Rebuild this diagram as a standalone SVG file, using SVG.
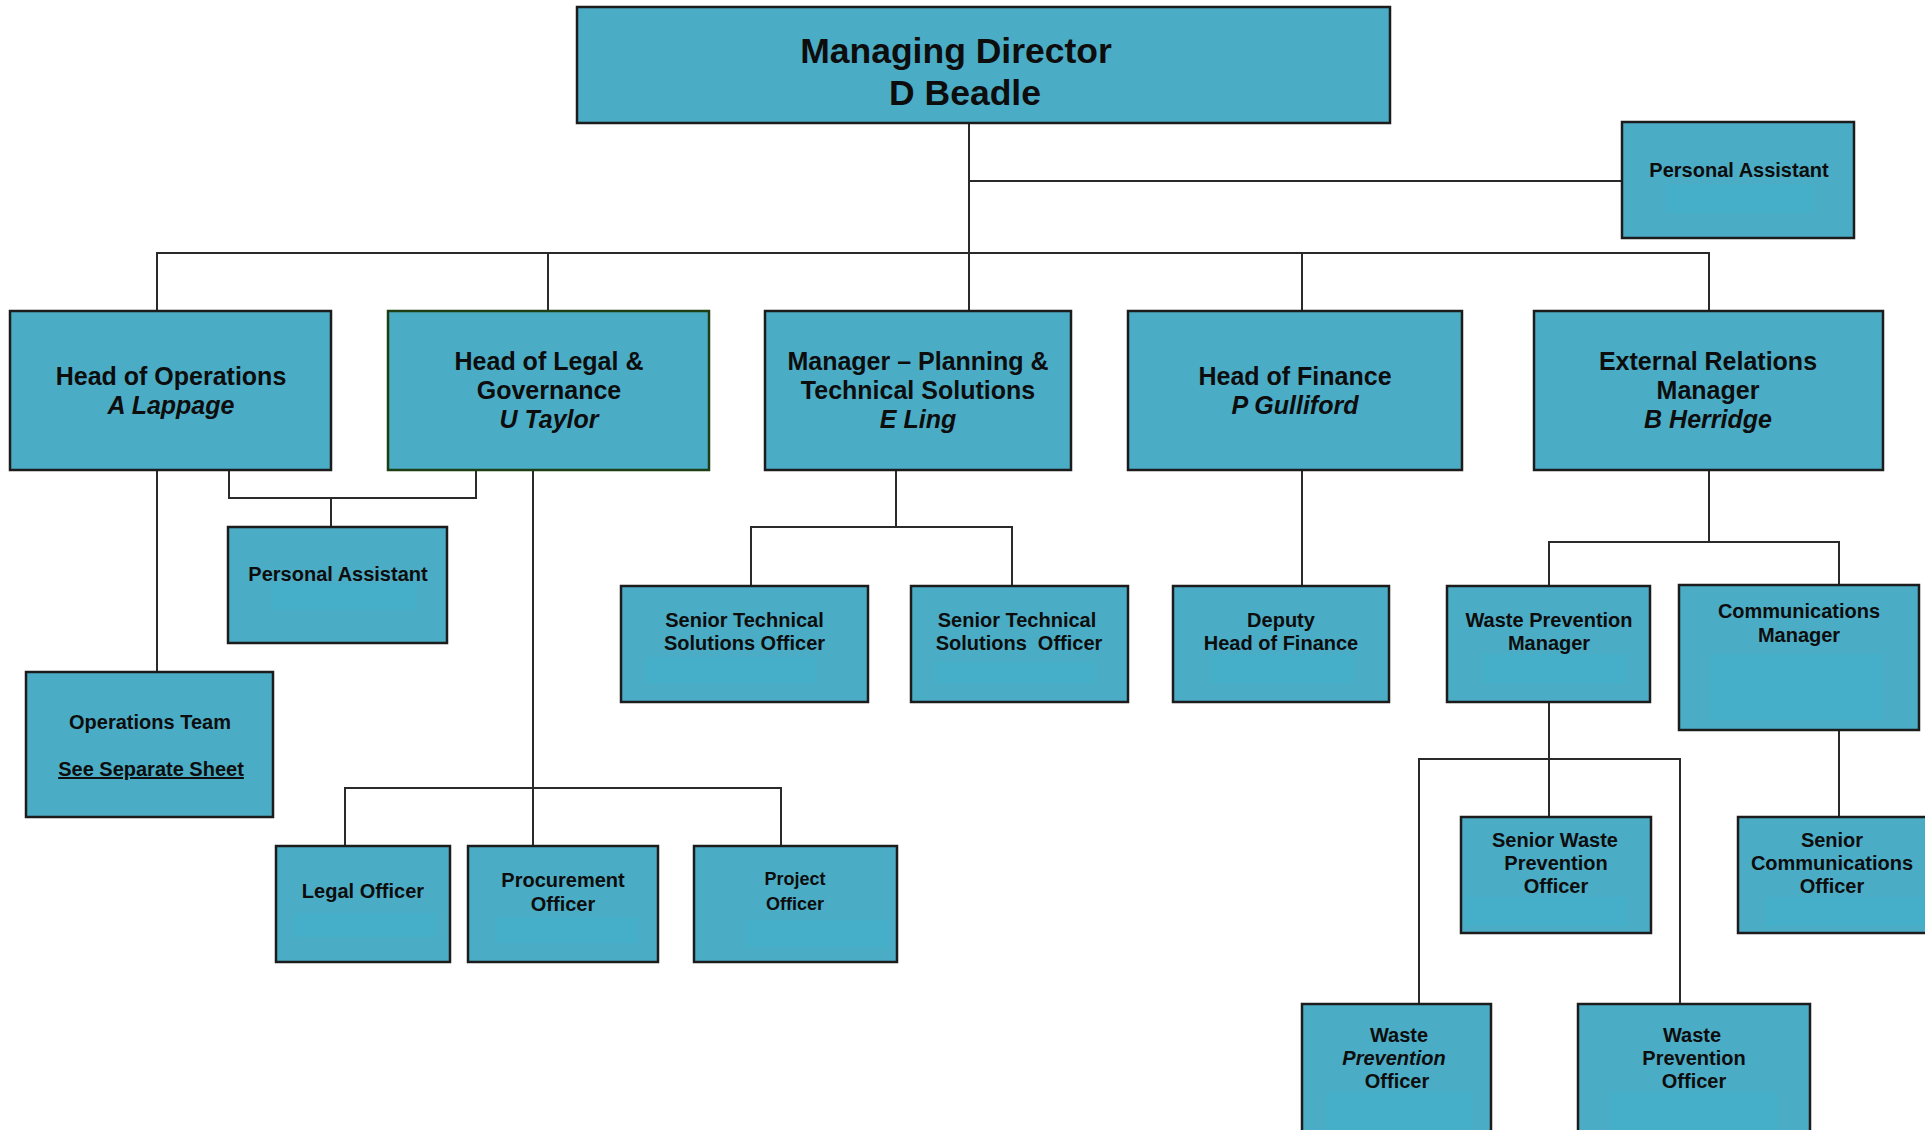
<svg xmlns="http://www.w3.org/2000/svg" width="1925" height="1130" viewBox="0 0 1925 1130">
<style>
.box{fill:#4BACC6;stroke:#1c1c1c;stroke-width:2.5}
.boxg{fill:#4BACC6;stroke:#1d3f14;stroke-width:2.5}
.hl{fill:#45AEC8;stroke:none}
.t{font-family:"Liberation Sans",Arial,sans-serif;font-weight:bold;fill:#0d0d0d;text-anchor:middle}
.f35{font-size:35.5px}
.f25{font-size:25px}
.f20{font-size:20px}
.f18{font-size:18px}
.i{font-style:italic}
.c{fill:none;stroke:#2a2a2a;stroke-width:2}
</style>
<rect width="1925" height="1130" fill="#ffffff"/>
<g id="connectors">
<path class="c" d="M969,123 V311"/>
<path class="c" d="M969,181 H1622"/>
<path class="c" d="M157,311 V253 H1709 V311"/>
<path class="c" d="M548,253 V311"/>
<path class="c" d="M1302,253 V311"/>
<path class="c" d="M157,470 V672"/>
<path class="c" d="M229,470 V498 H476 V470"/>
<path class="c" d="M331,498 V527"/>
<path class="c" d="M533,470 V846"/>
<path class="c" d="M345,846 V788 H781 V846"/>
<path class="c" d="M896,470 V527"/>
<path class="c" d="M751,586 V527 H1012 V586"/>
<path class="c" d="M1302,470 V586"/>
<path class="c" d="M1709,470 V542"/>
<path class="c" d="M1549,586 V542 H1839 V585"/>
<path class="c" d="M1549,702 V817"/>
<path class="c" d="M1419,1004 V759 H1680 V1004"/>
<path class="c" d="M1839,730 V817"/>
</g>
<g id="md">
<rect class="box" x="577" y="7" width="813" height="116"/>
<text class="t f35" x="956" y="63">Managing Director</text>
<text class="t f35" x="965" y="105">D Beadle</text>
</g>
<g id="pa-md">
<rect class="box" x="1622" y="122" width="232" height="116"/>
<rect class="hl" x="1666" y="184" width="147" height="29"/>
<text class="t f20" x="1739" y="177">Personal Assistant</text>
</g>
<g id="head-ops">
<rect class="box" x="10" y="311" width="321" height="159"/>
<text class="t f25" x="171" y="385">Head of Operations</text>
<text class="t f25 i" x="171" y="414">A Lappage</text>
</g>
<g id="head-legal">
<rect class="boxg" x="388" y="311" width="321" height="159"/>
<text class="t f25" x="549" y="370">Head of Legal &amp;</text>
<text class="t f25" x="549" y="399">Governance</text>
<text class="t f25 i" x="549" y="428">U Taylor</text>
</g>
<g id="mgr-planning">
<rect class="box" x="765" y="311" width="306" height="159"/>
<text class="t f25" x="918" y="370">Manager – Planning &amp;</text>
<text class="t f25" x="918" y="399">Technical Solutions</text>
<text class="t f25 i" x="918" y="428">E Ling</text>
</g>
<g id="head-finance">
<rect class="box" x="1128" y="311" width="334" height="159"/>
<text class="t f25" x="1295" y="385">Head of Finance</text>
<text class="t f25 i" x="1295" y="414">P Gulliford</text>
</g>
<g id="ext-relations">
<rect class="box" x="1534" y="311" width="349" height="159"/>
<text class="t f25" x="1708" y="370">External Relations</text>
<text class="t f25" x="1708" y="399">Manager</text>
<text class="t f25 i" x="1708" y="428">B Herridge</text>
</g>
<g id="pa-ops">
<rect class="box" x="228" y="527" width="219" height="116"/>
<rect class="hl" x="271" y="583" width="145" height="27"/>
<text class="t f20" x="338" y="581">Personal Assistant</text>
</g>
<g id="ops-team">
<rect class="box" x="26" y="672" width="247" height="145"/>
<text class="t f20" x="150" y="729">Operations Team</text>
<text class="t f20" x="151" y="776" text-decoration="underline">See Separate Sheet</text>
</g>
<g id="legal-officer">
<rect class="box" x="276" y="846" width="174" height="116"/>
<rect class="hl" x="293" y="913" width="143" height="24"/>
<text class="t f20" x="363" y="898">Legal Officer</text>
</g>
<g id="procurement-officer">
<rect class="box" x="468" y="846" width="190" height="116"/>
<rect class="hl" x="495" y="917" width="143" height="26"/>
<text class="t f20" x="563" y="887">Procurement</text>
<text class="t f20" x="563" y="911">Officer</text>
</g>
<g id="project-officer">
<rect class="box" x="694" y="846" width="203" height="116"/>
<rect class="hl" x="746" y="920" width="143" height="27"/>
<text class="t f18" x="795" y="885">Project</text>
<text class="t f18" x="795" y="910">Officer</text>
</g>
<g id="stso-1">
<rect class="box" x="621" y="586" width="247" height="116"/>
<rect class="hl" x="645" y="657" width="172" height="26"/>
<text class="t f20" x="744.5" y="627">Senior Technical</text>
<text class="t f20" x="744.5" y="650">Solutions Officer</text>
</g>
<g id="stso-2">
<rect class="box" x="911" y="586" width="217" height="116"/>
<rect class="hl" x="935" y="662" width="160" height="21"/>
<text class="t f20" x="1017" y="627">Senior Technical</text>
<text class="t f20" x="1019" y="650" xml:space="preserve">Solutions  Officer</text>
</g>
<g id="deputy-finance">
<rect class="box" x="1173" y="586" width="216" height="116"/>
<rect class="hl" x="1211" y="654" width="143" height="29"/>
<text class="t f20" x="1281" y="627">Deputy</text>
<text class="t f20" x="1281" y="650">Head of Finance</text>
</g>
<g id="waste-manager">
<rect class="box" x="1447" y="586" width="203" height="116"/>
<rect class="hl" x="1483" y="654" width="145" height="29"/>
<text class="t f20" x="1549" y="627">Waste Prevention</text>
<text class="t f20" x="1549" y="650">Manager</text>
</g>
<g id="comms-manager">
<rect class="box" x="1679" y="585" width="240" height="145"/>
<rect class="hl" x="1710" y="654" width="173" height="66"/>
<text class="t f20" x="1799" y="618">Communications</text>
<text class="t f20" x="1799" y="642">Manager</text>
</g>
<g id="senior-waste">
<rect class="box" x="1461" y="817" width="190" height="116"/>
<rect class="hl" x="1465" y="897" width="163" height="29"/>
<text class="t f20" x="1555" y="847">Senior Waste</text>
<text class="t f20" x="1556" y="870">Prevention</text>
<text class="t f20" x="1556" y="893">Officer</text>
</g>
<g id="senior-comms">
<rect class="box" x="1738" y="817" width="195" height="116"/>
<rect class="hl" x="1766" y="897" width="159" height="29"/>
<text class="t f20" x="1832" y="847">Senior</text>
<text class="t f20" x="1832" y="870">Communications</text>
<text class="t f20" x="1832" y="893">Officer</text>
</g>
<g id="waste-officer-1">
<rect class="box" x="1302" y="1004" width="189" height="140"/>
<rect class="hl" x="1326" y="1092" width="145" height="38"/>
<text class="t f20" x="1399" y="1042">Waste</text>
<text class="t f20 i" x="1394" y="1065">Prevention</text>
<text class="t f20" x="1397" y="1088">Officer</text>
</g>
<g id="waste-officer-2">
<rect class="box" x="1578" y="1004" width="232" height="140"/>
<rect class="hl" x="1610" y="1092" width="168" height="38"/>
<text class="t f20" x="1692" y="1042">Waste</text>
<text class="t f20" x="1694" y="1065">Prevention</text>
<text class="t f20" x="1694" y="1088">Officer</text>
</g>
</svg>
